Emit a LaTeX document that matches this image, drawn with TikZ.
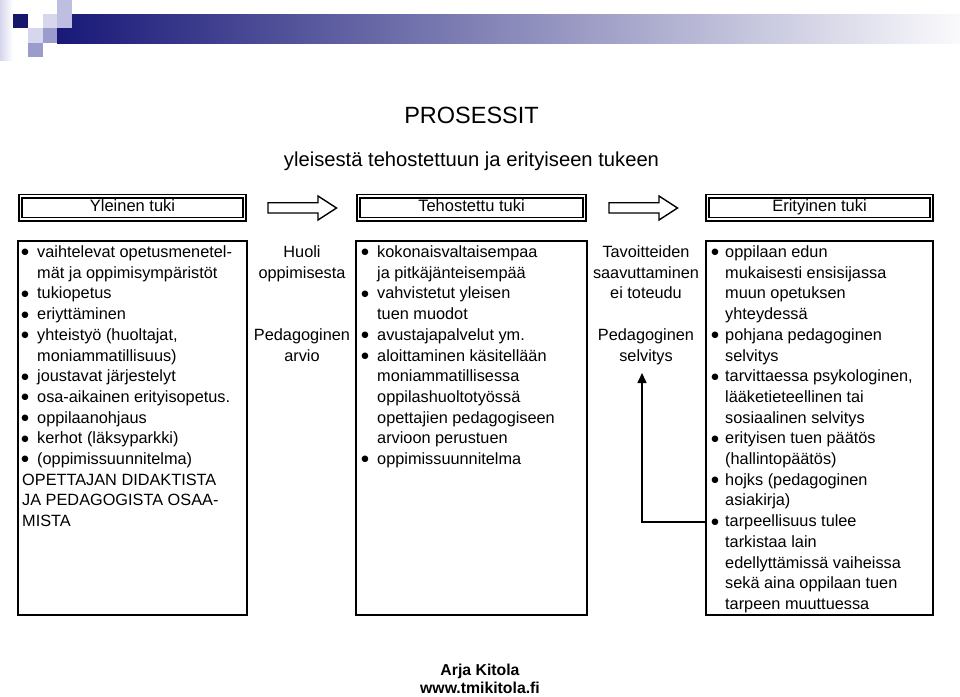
\documentclass[tikz,border=0pt]{standalone}
\usepackage{fontspec}
\setmainfont{Liberation Sans}
\newfontfamily\dejavu{DejaVu Sans}
\usetikzlibrary{arrows.meta}
\definecolor{navy}{RGB}{24,24,120}
\definecolor{lavA}{RGB}{214,214,236}
\definecolor{lavB}{RGB}{190,190,224}
\definecolor{lavC}{RGB}{156,156,204}
\definecolor{fadeR}{RGB}{250,250,252}
\newcommand\colLines[4]{%
  \foreach \b/\t [count=\i] in {#4} {
    \pgfmathsetmacro\yy{257.5+(\i-1)*20.7}
    \pgfmathsetmacro\xx{\b==2 ? #1-3 : #2}
    \node[txt,name=#3\i] at (\xx,\yy) {\t};
    \ifnum\b=1 \node[bulletdot] at (#1,\yy-4.8) {●}; \fi
  }}
\begin{document}
\begin{tikzpicture}[x=1pt,y=-1pt,
  txt/.style={anchor=base west,inner sep=0pt,font=\fontsize{16.3}{19}\selectfont},
  ctxt/.style={anchor=base,inner sep=0pt,font=\fontsize{16.3}{19}\selectfont},
  bulletdot/.style={inner sep=0pt,font=\dejavu\fontsize{8.5}{9}\selectfont},
  hdr/.style={draw=black,double=white,double distance=1.8pt,line width=1.6pt,
    minimum width=224pt,minimum height=23pt,inner sep=0pt,
    text height=11.7pt,text depth=3.4pt,font=\fontsize{16.5}{19}\selectfont},
  cbox/.style={draw=black,line width=1.7pt,inner sep=0pt,minimum height=374pt},
  blockarrow/.style={draw=black,line width=1.4pt,fill=white},
  conn/.style={draw=black,line width=1.6pt,-{Triangle[length=10pt,width=9pt]}}]
\useasboundingbox (0,0) rectangle (960,696);
% decoration
\shade[left color=lavA,right color=white] (0,0) rectangle (13,60);
\shade[left color=navy,right color=fadeR] (57,14) rectangle (960,43);
\fill[navy!90!black] (13,14) rectangle (28,28);
\fill[lavB] (57,0) rectangle (72,14);
\fill[lavA] (43,14) rectangle (57,28);
\fill[lavB] (57,14) rectangle (72,28);
\fill[lavA] (28,28) rectangle (43,43);
\fill[lavC] (43,28) rectangle (57,43);
\fill[lavC] (28,43) rectangle (43,57);
% titles
\node[anchor=base,inner sep=0pt,font=\fontsize{23.5}{28}\selectfont] (title) at (471.5,123) {PROSESSIT};
\node[anchor=base,inner sep=0pt,font=\fontsize{20.2}{24}\selectfont] (subtitle) at (471.5,166.5) {yleisestä tehostettuun ja erityiseen tukeen};
% headers
\node[hdr] (hA) at (132.5,207.5) {Yleinen tuki};
\node[hdr,minimum width=226pt] (hB) at (471.5,207.5) {Tehostettu tuki};
\node[hdr,minimum width=224pt] (hC) at (819.5,207.5) {Erityinen tuki};
% block arrows
\draw[blockarrow] (268,202.7) -- (318,202.7) -- (318,196) -- (336.5,208) -- (318,220) -- (318,213) -- (268,213) -- cycle;
\draw[blockarrow] (609,202.7) -- (659,202.7) -- (659,196) -- (677.5,208) -- (659,220) -- (659,213) -- (609,213) -- cycle;
% content boxes
\node[cbox,minimum width=229pt] (bA) at (132.5,428) {};
\node[cbox,minimum width=231pt] (bB) at (471.5,428) {};
\node[cbox,minimum width=227pt] (bC) at (819.5,428) {};
% box texts
\colLines{25}{37}{a}{1/{vaihtelevat opetusmenetel-},0/{mät ja oppimisympäristöt},1/{tukiopetus},1/{eriyttäminen},1/{yhteistyö (huoltajat,},0/{moniammatillisuus)},1/{joustavat järjestelyt},1/{osa-aikainen erityisopetus.},1/{oppilaanohjaus},1/{kerhot (läksyparkki)},1/{(oppimissuunnitelma)},2/{OPETTAJAN DIDAKTISTA},2/{JA PEDAGOGISTA OSAA-},2/{MISTA}}
\colLines{365}{377}{b}{1/{kokonaisvaltaisempaa},0/{ja pitkäjänteisempää},1/{vahvistetut yleisen},0/{tuen muodot},1/{avustajapalvelut ym.},1/{aloittaminen käsitellään},0/{moniammatillisessa},0/{oppilashuoltotyössä},0/{opettajien pedagogiseen},0/{arvioon perustuen},1/{oppimissuunnitelma}}
\colLines{715}{725}{c}{1/{oppilaan edun},0/{mukaisesti ensisijassa},0/{muun opetuksen},0/{yhteydessä},1/{pohjana pedagoginen},0/{selvitys},1/{tarvittaessa psykologinen,},0/{lääketieteellinen tai},0/{sosiaalinen selvitys},1/{erityisen tuen päätös},0/{(hallintopäätös)},1/{hojks (pedagoginen},0/{asiakirja)},1/{tarpeellisuus tulee},0/{tarkistaa lain},0/{edellyttämissä vaiheissa},0/{sekä aina oppilaan tuen},0/{tarpeen muuttuessa}}
% middle columns
\node[ctxt] (m1) at (302,257.5) {Huoli};
\node[ctxt] (m2) at (302,278.2) {oppimisesta};
\node[ctxt] (m3) at (302,340.3) {Pedagoginen};
\node[ctxt] (m4) at (302,361.0) {arvio};
\node[ctxt] (n1) at (646,257.5) {Tavoitteiden};
\node[ctxt] (n2) at (646,278.2) {saavuttaminen};
\node[ctxt] (n3) at (646,298.9) {ei toteudu};
\node[ctxt] (n4) at (646,340.3) {Pedagoginen};
\node[ctxt] (n5) at (646,361.0) {selvitys};
% connector
\coordinate (cs) at (706,522);
\coordinate (ctip) at (642,373);
\draw[conn] (cs) -| (ctip);
% footer
\node[anchor=base,inner sep=0pt,font=\bfseries\fontsize{15.8}{18}\selectfont] (auth) at (480,675) {Arja Kitola};
\node[anchor=base,inner sep=0pt,font=\bfseries\fontsize{15.8}{18}\selectfont] (web) at (480,693) {www.tmikitola.fi};
\end{tikzpicture}
\end{document}
